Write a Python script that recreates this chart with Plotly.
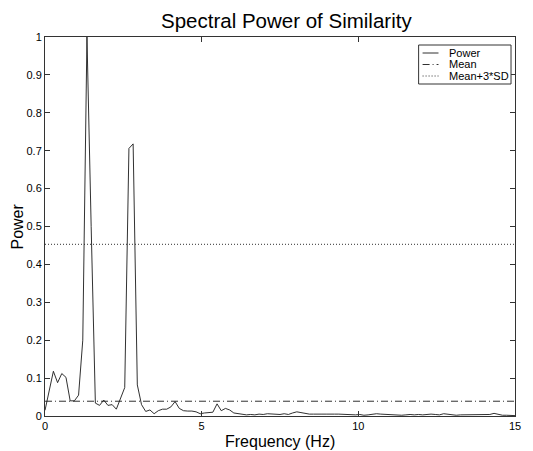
import numpy as np
import plotly.graph_objects as go

# ---- data ----
freq_max = 15.0
power = [
    0.015, 0.065, 0.118, 0.088, 0.112, 0.102, 0.040, 0.040, 0.055, 0.200,
    1.000, 0.500, 0.034, 0.028, 0.042, 0.028, 0.030, 0.018, 0.045, 0.075,
    0.706, 0.718, 0.082, 0.030, 0.012, 0.016, 0.006, 0.014, 0.018, 0.018,
    0.024, 0.038, 0.020, 0.014, 0.013, 0.013, 0.011, 0.006, 0.008, 0.009,
    0.010, 0.032, 0.014, 0.020, 0.016, 0.008, 0.006, 0.004, 0.003, 0.004,
    0.003, 0.005, 0.004, 0.006, 0.005, 0.005, 0.004, 0.006, 0.004, 0.008,
    0.011, 0.009, 0.006, 0.005, 0.005, 0.004, 0.005, 0.005, 0.004, 0.005,
    0.005, 0.004, 0.004, 0.003, 0.003, 0.004, 0.002, 0.003, 0.004, 0.006,
    0.005, 0.004, 0.004, 0.003, 0.003, 0.002, 0.003, 0.004, 0.003, 0.004,
    0.003, 0.004, 0.005, 0.004, 0.003, 0.006, 0.004, 0.003, 0.002, 0.003,
    0.003, 0.004, 0.003, 0.003, 0.004, 0.005, 0.004, 0.007, 0.004, 0.002,
    0.002, 0.002, 0.001,
]
freq = np.linspace(0, freq_max, len(power))
mean_val = 0.039
thresh_val = 0.453
x_ticks = [0, 5, 10, 15]
y_ticks = [0, 0.1, 0.2, 0.3, 0.4, 0.5, 0.6, 0.7, 0.8, 0.9, 1]
y_tick_text = ["0", "0.1", "0.2", "0.3", "0.4", "0.5", "0.6", "0.7", "0.8", "0.9", "1"]
legend_names = ["Power", "Mean", "Mean+3*SD"]
legend_dash = ["solid", "7px,3px,1px,3px", "1px,2px"]

W, H = 533, 451
L, R, T, B = 45, 15, 37, 35
PW, PH = W - L - R, H - T - B

def px_x(px):
    return (px - L) / PW

def px_y(py):
    return (H - B - py) / PH

FONT = "Liberation Sans, Arial, Helvetica, sans-serif"
LC = "#1a1a1a"

fig = go.Figure()
fig.add_trace(go.Scatter(x=freq, y=power, mode="lines", name=legend_names[0],
                         line=dict(color=LC, width=0.9), showlegend=False))
fig.add_trace(go.Scatter(x=[0, freq_max], y=[mean_val, mean_val], mode="lines",
                         name=legend_names[1], line=dict(color=LC, width=0.9, dash=legend_dash[1]),
                         showlegend=False))
fig.add_trace(go.Scatter(x=[0, freq_max], y=[thresh_val, thresh_val], mode="lines",
                         name=legend_names[2], line=dict(color=LC, width=0.9, dash=legend_dash[2]),
                         showlegend=False))

axis_common = dict(showline=True, linecolor="#333", linewidth=1, mirror="ticks",
                   ticks="inside", ticklen=5, tickcolor="#333", tickwidth=1,
                   showgrid=False, zeroline=False,
                   tickfont=dict(family=FONT, size=11, color="black"))
fig.update_xaxes(range=[0, freq_max], tickvals=x_ticks, ticktext=[str(v) for v in x_ticks], **axis_common)
fig.update_yaxes(range=[0, 1], tickvals=y_ticks, ticktext=y_tick_text, **axis_common)

shapes = []
annotations = []
# legend box
shapes.append(dict(type="rect", xref="paper", yref="paper",
                   x0=px_x(421), x1=px_x(514), y0=px_y(84), y1=px_y(45),
                   line=dict(color="#333", width=1), fillcolor="white", layer="above"))
rows = [53, 64.5, 76]
for name, dash, ry in zip(legend_names, legend_dash, rows):
    shapes.append(dict(type="line", xref="paper", yref="paper",
                       x0=px_x(425), x1=px_x(441), y0=px_y(ry), y1=px_y(ry),
                       line=dict(color=LC, width=0.9, dash=dash), layer="above"))
    annotations.append(dict(text=name, xref="paper", yref="paper", x=px_x(450), y=px_y(ry),
                            xanchor="left", yanchor="middle", showarrow=False,
                            font=dict(family=FONT, size=11, color="black")))

annotations.append(dict(text="Spectral Power of Similarity", xref="paper", yref="paper",
                        x=px_x(288.5), y=1, yshift=T - 20.5, xanchor="center", yanchor="middle",
                        showarrow=False, font=dict(family=FONT, size=20.5, color="black")))
annotations.append(dict(text="Frequency (Hz)", xref="paper", yref="paper",
                        x=0.5, y=0, yshift=-25.5, xanchor="center", yanchor="middle",
                        showarrow=False, font=dict(family=FONT, size=16, color="black")))
annotations.append(dict(text="Power", xref="paper", yref="paper", textangle=-90,
                        x=0, y=0.5, xshift=17 - L, xanchor="center", yanchor="middle",
                        showarrow=False, font=dict(family=FONT, size=16, color="black")))

fig.update_layout(width=W, height=H, autosize=False,
                  margin=dict(l=L, r=R, t=T, b=B, pad=0),
                  paper_bgcolor="white", plot_bgcolor="white",
                  shapes=shapes, annotations=annotations, showlegend=False)

fig.write_html("out.html")
